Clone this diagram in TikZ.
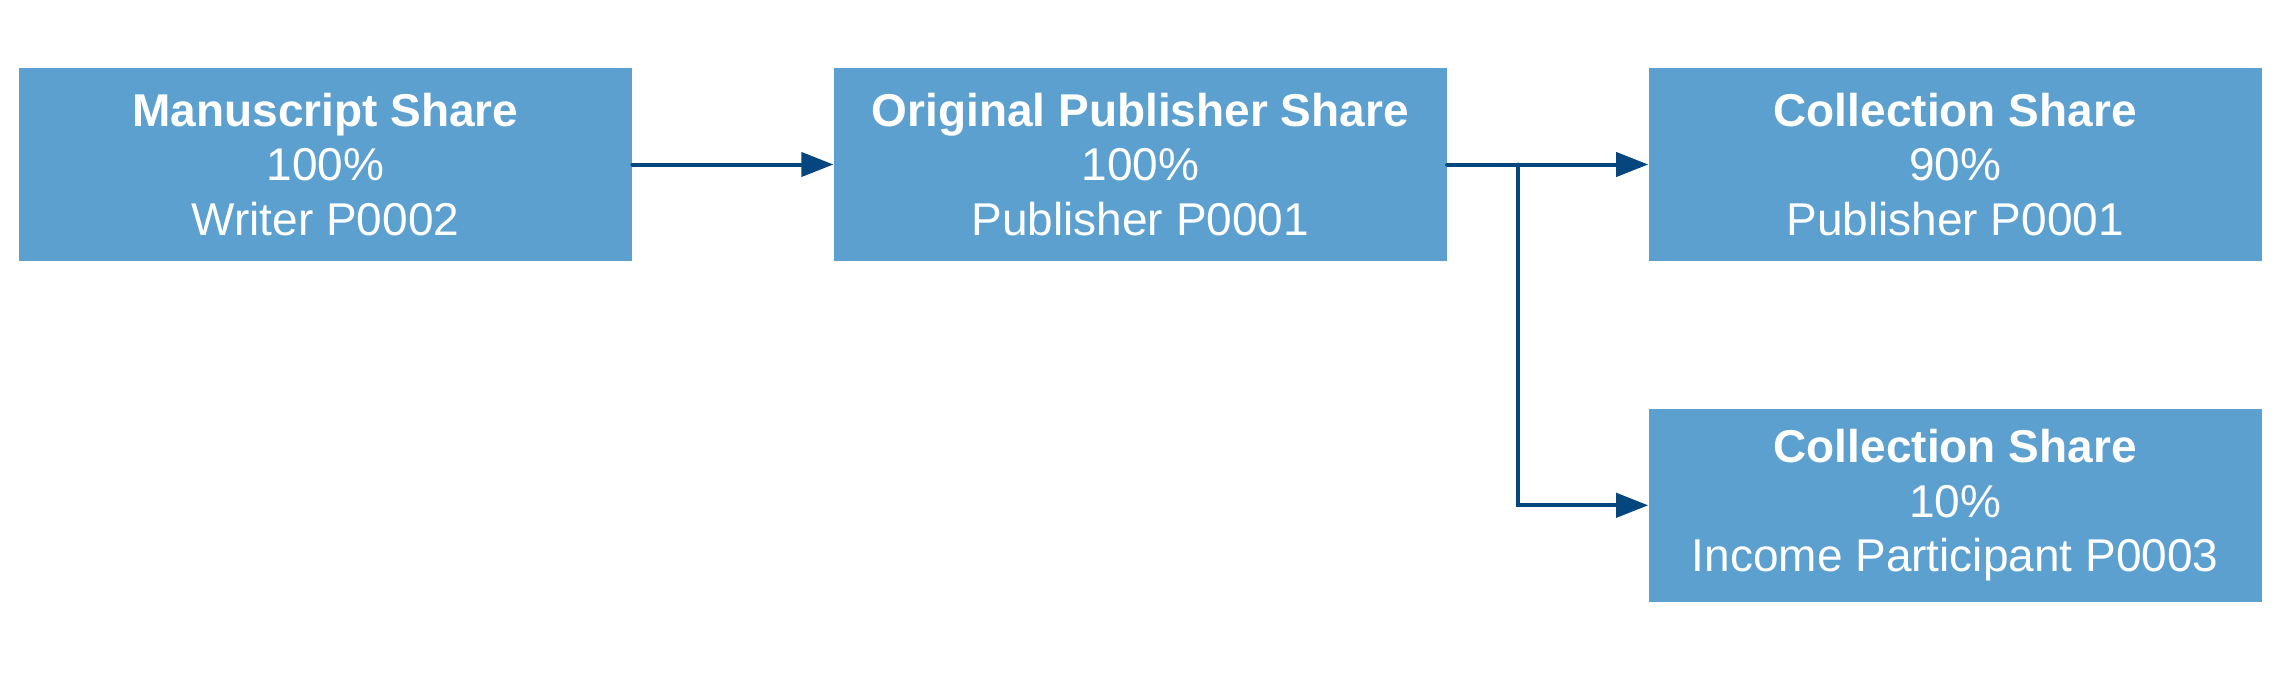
\documentclass[tikz,border=0pt]{standalone}
\usepackage{fontspec}
\setmainfont{Liberation Sans}
\usetikzlibrary{positioning,arrows.meta}
\definecolor{sharefill}{RGB}{92,160,208}
\definecolor{sharearrow}{RGB}{4,70,125}
\tikzset{
  share/.style={fill=sharefill, text=white, minimum width=306.5pt, minimum height=96.5pt,
    inner sep=0pt, align=center, font=\fontsize{23}{27.25}\selectfont},
  flow/.style={draw=sharearrow, line width=2pt, line cap=round,
    -{Triangle[length=16pt,width=12pt]}}
}
\begin{document}
\begin{tikzpicture}[node distance=100.5pt]
  \useasboundingbox (0,0) rectangle (1145pt,-340pt);
  % share boxes
  \node[share] (manuscript) at (162.75pt,-82.25pt) {\textbf{Manuscript Share}\\100\%\\Writer P0002};
  \node[share, right=of manuscript] (original) {\textbf{Original Publisher Share}\\100\%\\Publisher P0001};
  \node[share, right=of original] (collecta) {\textbf{Collection Share}\\90\%\\Publisher P0001};
  \node[share, below=73.5pt of collecta] (collectb) {\textbf{Collection Share}\\10\%\\Income Participant P0003};
  % connectors
  \coordinate (split) at ([xshift=35.5pt]original.east);
  \draw[flow] (manuscript) -- (original);
  \draw[flow] (original) -- (collecta);
  \draw[flow] (split) |- (collectb);
\end{tikzpicture}
\end{document}
